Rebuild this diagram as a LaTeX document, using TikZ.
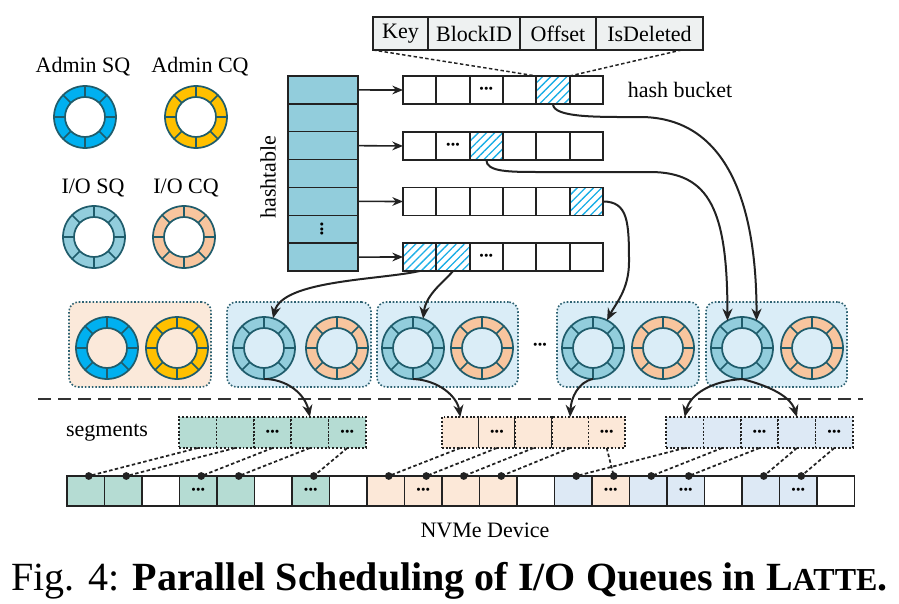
\documentclass[tikz,border=0pt]{standalone}
\usepackage{fontspec}
\setmainfont{Liberation Serif}
\usetikzlibrary{arrows.meta,calc,patterns.meta}
\definecolor{ringc}{HTML}{1F5C6B}
\definecolor{adsq}{HTML}{00B0F0}
\definecolor{adcq}{HTML}{FFC000}
\definecolor{iosq}{HTML}{92CDDC}
\definecolor{iocq}{HTML}{F8C59E}
\definecolor{htc}{HTML}{92CDDC}
\definecolor{hatchc}{HTML}{1AAEE6}
\definecolor{hdrc}{HTML}{EEF1F1}
\definecolor{grpA}{HTML}{FBE9DA}
\definecolor{grpB}{HTML}{DAEDF7}
\definecolor{tealc}{HTML}{B5DCD3}
\definecolor{peachc}{HTML}{FCE8D8}
\definecolor{bluec}{HTML}{DDE9F5}
\definecolor{linec}{HTML}{222222}
\definecolor{grpline}{HTML}{2E6272}
\newcommand{\dts}{{\fontsize{8.5}{8.5}\selectfont\bfseries •\hspace{0.5pt}•\hspace{0.5pt}•}}
\newcommand{\qring}[3]{%
  \node[circle, inner sep=0pt, outer sep=0pt, minimum size=46.5pt] (#1) at (#2) {};
  \fill[#3, even odd rule] (#1.center) circle[radius=23.25pt] circle[radius=15pt];
  \draw[ringline] (#1.center) circle[radius=23.25pt] circle[radius=15pt];
  \foreach \a in {0,45,...,315} \draw[ringline] ($(#1.center)+(\a:15pt)$) -- ($(#1.center)+(\a:23.25pt)$);
}
\begin{document}
\begin{tikzpicture}[x=0.75pt, y=-0.75pt, font=\fontsize{16.5}{18}\selectfont,
  ringline/.style={draw=ringc, line width=1.3pt},
  hcell/.style={draw=linec, line width=1.1pt, fill=htc, minimum width=52.5pt, minimum height=20.9pt, inner sep=0pt, outer sep=0pt},
  bcell/.style={draw=linec, line width=1.4pt, fill=white, minimum width=25pt, minimum height=21pt, inner sep=0pt, outer sep=0pt},
  bke/.style={},
  bkd/.style={},
  bkh/.style={pattern={Lines[angle=45, distance=4.3pt, line width=1pt]}, pattern color=hatchc},
  hdr/.style={draw=linec, line width=1.1pt, fill=hdrc, minimum height=24.75pt, inner sep=0pt, outer sep=0pt},
  grp/.style={draw=grpline, line width=1.2pt, dash pattern=on 1.2pt off 1.4pt, rounded corners=7pt, minimum height=63.75pt, inner sep=0pt},
  scell/.style={draw=linec, line width=1.2pt, dash pattern=on 1.4pt off 1.4pt, minimum height=23.25pt, inner sep=0pt, outer sep=0pt},
  dcell/.style={draw=linec, line width=1.4pt, minimum width=28.1pt, minimum height=22.5pt, inner sep=0pt, outer sep=0pt},
  dotl/.style={draw=linec, line width=1.3pt, dash pattern=on 2.6pt off 1.8pt},
  conn/.style={draw=linec, line width=1.5pt, -{Stealth[length=9pt,width=7.5pt]}},
  harrow/.style={draw=linec, line width=1.2pt, -{Stealth[length=8pt,width=6.5pt]}}
]
\useasboundingbox (0,0) rectangle (899,603);

% ---------- legend rings ----------
\node (lasq) at (83,67) {Admin SQ};
\node (lacq) at (200,67) {Admin CQ};
\node (liosq) at (93,188) {I/O SQ};
\node (liocq) at (186,188) {I/O CQ};
\qring{rasq}{85,117}{adsq}
\qring{racq}{196,117}{adcq}
\qring{riosq}{94,237}{iosq}
\qring{riocq}{184,237}{iocq}

% ---------- hashtable ----------
\foreach \i in {1,...,7} \node[hcell] (h\i) at (323,{76+27.86*(\i-0.5)}) {};
\node[rotate=90, inner sep=0pt] (hvd) at (h6.center) {\dts};
\node[rotate=90] (htl) at (268,177) {hashtable};

% ---------- buckets ----------
\foreach \j/\s/\c in {1/bke/{},2/bke/{},3/bkd/\dts,4/bke/{},5/bkh/{},6/bke/{}}
  \node[bcell,\s] (b1-\j) at ({403+33.33*(\j-0.5)},90) {\c};
\foreach \j/\s/\c in {1/bke/{},2/bkd/\dts,3/bkh/{},4/bke/{},5/bke/{},6/bke/{}}
  \node[bcell,\s] (b2-\j) at ({403+33.33*(\j-0.5)},146) {\c};
\foreach \j/\s/\c in {1/bke/{},2/bke/{},3/bke/{},4/bke/{},5/bke/{},6/bkh/{}}
  \node[bcell,\s] (b3-\j) at ({403+33.33*(\j-0.5)},201.5) {\c};
\foreach \j/\s/\c in {1/bkh/{},2/bkh/{},3/bkd/\dts,4/bke/{},5/bke/{},6/bke/{}}
  \node[bcell,\s] (b4-\j) at ({403+33.33*(\j-0.5)},257) {\c};
\node (hbl) at (680,90) {hash bucket};

\draw[harrow] (h1.east) -- (b1-1.west);
\draw[harrow] (h3.east) -- (b2-1.west);
\draw[harrow] (h5.east) -- (b3-1.west);
\draw[harrow] (h7.east) -- (b4-1.west);

% ---------- entry header ----------
\node[hdr, minimum width=41.25pt] (kkey) at (400.5,33.5) {Key};
\node[hdr, minimum width=69pt] (kblk) at (474,33.5) {BlockID};
\node[hdr, minimum width=57pt] (koff) at (558,33.5) {Offset};
\node[hdr, minimum width=80.25pt] (kdel) at (649.5,33.5) {IsDeleted};
\draw[dotl, line width=1.1pt] (kkey.south west) -- (b1-5.north west);
\draw[dotl, line width=1.1pt] ($(kdel.south west)!0.8!(kdel.south east)$) -- (b1-5.north east);

% ---------- queue groups ----------
\node[grp, fill=grpA, minimum width=106.5pt] (g1) at (140,344.5) {};
\node[grp, fill=grpB, minimum width=108pt] (g2) at (299,344.5) {};
\node[grp, fill=grpB, minimum width=105.75pt] (g3) at (447.5,344.5) {};
\node[grp, fill=grpB, minimum width=106.5pt] (g4) at (628,344.5) {};
\node[grp, fill=grpB, minimum width=105.75pt] (g5) at (776.5,344.5) {};
\qring{g1sq}{107,348}{adsq}
\qring{g1cq}{177,348}{adcq}
\qring{g2sq}{264,348}{iosq}
\qring{g2cq}{337,348}{iocq}
\qring{g3sq}{413,348}{iosq}
\qring{g3cq}{482,348}{iocq}
\qring{g4sq}{593,348}{iosq}
\qring{g4cq}{663,348}{iocq}
\qring{g5sq}{742,348}{iosq}
\qring{g5cq}{812,348}{iocq}
\node (gdots) at (540,346) {\dts};

% ---------- separator ----------
\coordinate (sepl) at (38,399);
\coordinate (sepr) at (863,399);
\draw[draw=black!80, line width=1.4pt, dash pattern=on 9.75pt off 5.25pt] (sepl) -- (sepr);

% ---------- segments ----------
\node (segl) at (107,433) {segments};
\foreach \j/\c in {1/{},2/{},3/\dts,4/{},5/\dts}
  \node[scell, fill=tealc, minimum width=28.05pt] (sa\j) at ({179+37.4*(\j-0.5)},432.5) {\c};
\foreach \j/\c in {1/{},2/\dts,3/{},4/{},5/\dts}
  \node[scell, fill=peachc, minimum width=27.45pt] (sb\j) at ({442+36.6*(\j-0.5)},432.5) {\c};
\foreach \j/\c in {1/{},2/{},3/\dts,4/{},5/\dts}
  \node[scell, fill=bluec, minimum width=28.05pt] (sc\j) at ({666+37.4*(\j-0.5)},432.5) {\c};

% ---------- device ----------
\foreach \k/\s/\c in {1/tealc/{},2/tealc/{},3/white/{},4/tealc/\dts,5/tealc/{},6/white/{},7/tealc/\dts,8/white/{},9/peachc/{},10/peachc/\dts,11/peachc/{},12/peachc/{},13/white/{},14/bluec/{},15/peachc/\dts,16/bluec/{},17/bluec/\dts,18/white/{},19/bluec/{},20/bluec/\dts,21/white/{}}
  \node[dcell, fill=\s] (d\k) at ({67+37.5*(\k-0.5)},491) {\c};
\node (nvl) at (485,530) {NVMe Device};

\foreach \a/\b in {sa1/d1,sa2/d2,sa3/d4,sa4/d5,sa5/d7,sb1/d9,sb2/d10,sb3/d11,sb4/d12,sb5/d15,sc1/d14,sc2/d16,sc3/d17,sc4/d19,sc5/d20}{
  \draw[dotl] (\a.south) -- ($(\b.north)+(3,0)$);
  \fill[linec] ($(\b.north)+(3,0)$) circle[radius=2.9pt];
}

% ---------- connectors ----------
\draw[conn] (b1-5.south) .. controls +(0,14) and +(-40,0) .. (640,117) .. controls +(80,0) and +(0,-130) .. (g5sq.62);
\draw[conn] (b2-3.south) .. controls +(0,12) and +(-30,0) .. (540,172) -- (650,172) .. controls +(60,0) and +(0,-110) .. (g5sq.118);
\draw[conn] (b3-6.east) .. controls +(25,0) and +(0,-40) .. (629,262) .. controls +(0,28) and +(8,-16) .. (g4sq.63);
\draw[conn] (b4-1.south) .. controls (380,280) and (282,280) .. (g2sq.73);
\draw[conn] (b4-2.south) .. controls (445,281) and (426,294) .. (g3sq.71);
\draw[conn] (g2sq.south) .. controls (287,379) and (305,394) .. (sa4.north);
\draw[conn] (g3sq.south) .. controls (438,380) and (457,396) .. (sb1.north);
\draw[conn] (g4sq.south) .. controls (578,382) and (571,398) .. (sb4.north);
\draw[conn] (g5sq.south) .. controls (712,381) and (690,394) .. (sc1.north);
\draw[conn] (g5sq.south) .. controls (762,384) and (790,394) .. (sc4.north);

% ---------- caption ----------
\node[anchor=base, font=\fontsize{30}{32}\selectfont, inner sep=0pt] (cap) at (449.5,590)
  {Fig. 4: \textbf{Parallel Scheduling of I/O Queues in L{\fontsize{24}{24}\selectfont ATTE}.}};
\end{tikzpicture}
\end{document}
